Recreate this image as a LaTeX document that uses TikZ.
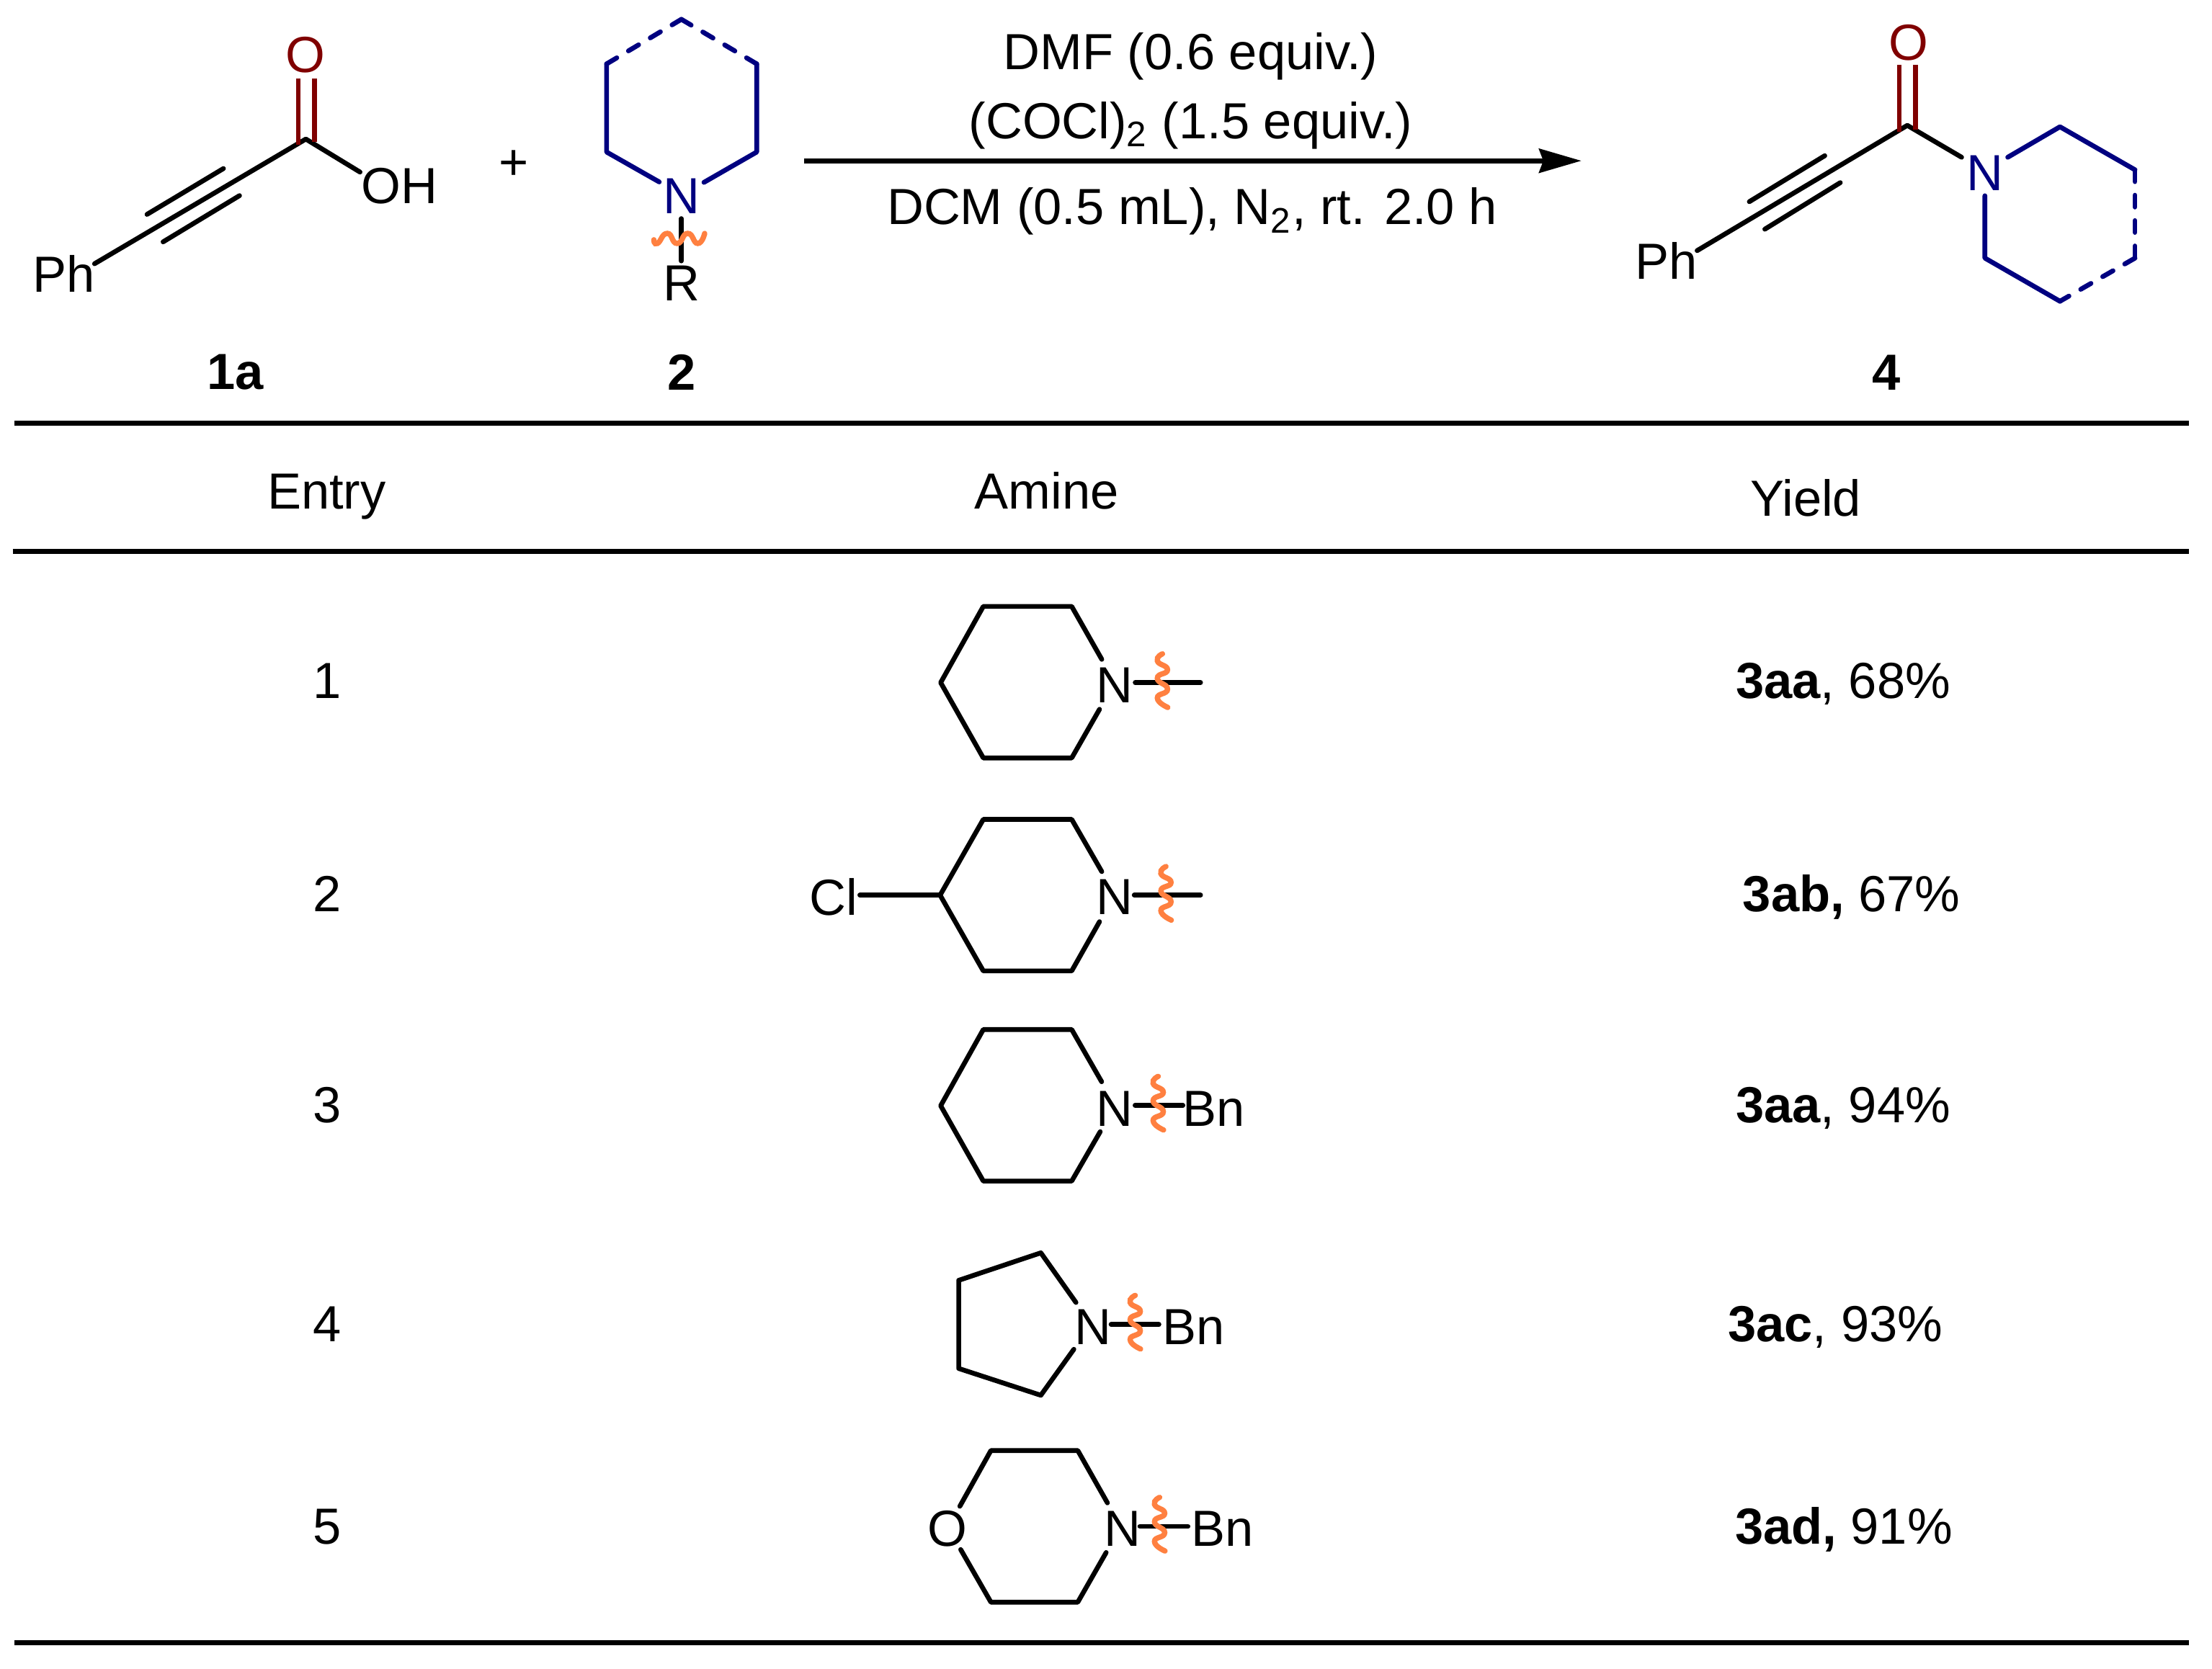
\documentclass[tikz,border=0pt]{standalone}
\usepackage{fontspec}
\setmainfont{Liberation Sans}
\usetikzlibrary{arrows.meta}
\definecolor{navyb}{RGB}{0,0,128}
\definecolor{oxy}{RGB}{128,0,0}
\definecolor{wavy}{RGB}{255,128,64}
\tikzset{
 bond/.style={line width=1.7pt,line cap=round,line join=round,black},
 nbond/.style={bond,draw=navyb},
 ndash/.style={nbond,dash pattern=on 4.2pt off 4.8pt},
 obond/.style={line width=1.7pt,draw=oxy},
 squig/.style={line width=1.9pt,draw=wavy,line cap=round},
 tablerule/.style={line width=1.79pt,black},
 txt/.style={font=\fontsize{18pt}{20pt}\selectfont,inner sep=0pt,text=black},
 lab/.style={txt,font=\fontsize{18pt}{20pt}\selectfont\bfseries},
 atomn/.style={txt,text=navyb},
 atomo/.style={txt,text=oxy},
}
% vertical squiggle centred at (#1,#2)
\newcommand{\vsq}[2]{\draw[squig,shift={(#1,#2)}] plot[smooth,tension=1] coordinates {(0,-19) (-3.6,-14) (3.6,-7.7) (-3.6,-1.7) (3.6,6) (-3.6,12.3) (3.8,19)};}
\begin{document}
\begin{tikzpicture}[x=0.5pt,y=-0.5pt]
\useasboundingbox (0,0) rectangle (1568,1183.4);
% 1a
\node[txt] (ph1) at (45,194) {Ph};
\node[atomo] (o1) at (216.4,39) {O};
\node[txt] (oh1) at (283,132) {OH};
\coordinate (c1) at (216.8,98.6);
\draw[bond] (67,187) -- (c1) -- (255.2,122);
\draw[bond] (104.2,152) -- (158.4,119.5);
\draw[bond] (115.6,171.5) -- (169.8,138.7);
\draw[obond] (211.4,55.7) -- (211.4,102.5);
\draw[obond] (222.8,55.7) -- (222.8,100.6);
\node[txt] (plus) at (364,117) {+};
% 2
\node[atomn] (n2) at (483,139) {N};
\node[txt] (r2) at (483,201) {R};
\draw[nbond] (467.3,129) -- (430,107.8) -- (430,45.3);
\draw[ndash] (430,45.3) -- (483,13.7);
\draw[ndash] (536.4,45.3) -- (483,13.7);
\draw[nbond] (536.4,45.3) -- (536.4,107.8) -- (499,129.3);
\draw[bond] (483,155) -- (483,185);
\draw[squig] plot[smooth,tension=1] coordinates {(463.5,170) (466,172.6) (473,165.5) (480,172.6) (487.5,165.5) (494.6,172.6) (499.5,165.5)};
\node[lab] (l1a) at (167,264) {1a};
\node[lab] (l2) at (483,264) {2};
% arrow and conditions
\coordinate (ars) at (570,114);
\coordinate (are) at (1121,114);
\draw[line width=1.75pt,-{Stealth[length=15pt,width=8.5pt,inset=1.5pt]}] (ars) -- (are);
\node[txt] (c1t) at (844,40) {DMF (0.6 equiv.)};
\node[txt] (c2t) at (844,89) {(COCl)\textsubscript{2} (1.5 equiv.)};
\node[txt] (c3t) at (845,150) {DCM (0.5 mL), N\textsubscript{2}, rt. 2.0 h};
% 4
\node[txt] (ph4) at (1181,185) {Ph};
\node[atomo] (o4) at (1353,30) {O};
\node[atomn] (n4) at (1406.9,122.6) {N};
\coordinate (c4) at (1352,88.9);
\draw[bond] (1203,177.7) -- (c4) -- (1390.5,111.5);
\draw[bond] (1240,143) -- (1293.5,110.4);
\draw[bond] (1251,162.5) -- (1304.5,129.5);
\draw[obond] (1346.3,45.9) -- (1346.3,93.7);
\draw[obond] (1357.9,45.9) -- (1357.9,91.8);
\draw[nbond] (1423.2,111.5) -- (1460.2,89.9) -- (1513.4,120.4);
\draw[ndash] (1513.4,120.4) -- (1513.4,183);
\draw[ndash] (1513.4,183) -- (1460.2,213.6);
\draw[nbond] (1460.2,213.6) -- (1407,183) -- (1407,138.8);
\node[lab] (l4) at (1337,264) {4};
% rules
\draw[tablerule] (10.2,300) -- (1551.6,300);
\draw[tablerule] (9,391) -- (1551.6,391);
\draw[tablerule] (10.2,1164.6) -- (1551.6,1164.6);
% header
\node[txt] (h1) at (231.5,352) {Entry};
\node[txt] (h2) at (742,348) {Amine};
\node[txt] (h3) at (1280,353) {Yield};
% entries
\node[txt] (e1) at (232,483) {1};
\node[txt] (e2) at (232,634) {2};
\node[txt] (e3) at (232,783.5) {3};
\node[txt] (e4) at (232,939) {4};
\node[txt] (e5) at (232,1082.5) {5};
\node[txt] (y1) at (1306.5,485) {\textbf{3aa}, 68\%};
\node[txt] (y2) at (1312.5,636) {\textbf{3ab,} 67\%};
\node[txt] (y3) at (1306.5,785.5) {\textbf{3aa}, 94\%};
\node[txt] (y4) at (1301,941) {\textbf{3ac}, 93\%};
\node[txt] (y5) at (1307,1084.5) {\textbf{3ad,} 91\%};
% row 1
\node[txt] (na) at (790,486) {N};
\draw[bond] (781,467.5) -- (759.7,430) -- (697,430) -- (666.8,484) -- (697,537.4) -- (759.7,537.4) -- (779.4,502.9);
\draw[bond] (804.7,484) -- (851,484);
\vsq{824}{482.6}
% row 2
\node[txt] (nb) at (790,636) {N};
\node[txt] (cl) at (591,636) {Cl};
\draw[bond] (781,618) -- (759.7,581) -- (697,581) -- (666.4,634.7) -- (697,688.4) -- (759.7,688.4) -- (779.4,653.5);
\draw[bond] (609.5,634.7) -- (666.4,634.7);
\draw[bond] (804,634.7) -- (851,634.7);
\vsq{826.5}{633.4}
% row 3
\node[txt] (nc) at (790.3,786) {N};
\node[txt] (bc) at (860.5,786) {Bn};
\draw[bond] (780.9,767) -- (759.7,730) -- (697,730) -- (666.8,784) -- (697,837.4) -- (759.7,837.4) -- (779.9,802.4);
\draw[bond] (804.6,783.7) -- (838.5,783.7);
\vsq{821}{782.2}
% row 4
\node[txt] (nd) at (775,941) {N};
\node[txt] (bd) at (846,941) {Bn};
\draw[bond] (762.7,923.5) -- (737.8,888.3) -- (679.6,907.8) -- (679.6,970.3) -- (737.8,989.3) -- (761.2,956.7);
\draw[bond] (787.6,939.1) -- (821.5,939.1);
\vsq{804.7}{937.5}
% row 5
\node[txt] (ne) at (795.5,1084) {N};
\node[txt] (be) at (866.5,1084) {Bn};
\node[txt] (oe) at (671.8,1084) {O};
\draw[bond] (680.4,1068) -- (702.4,1028.5) -- (764,1028.5) -- (785,1065.6);
\draw[bond] (784.1,1100.8) -- (764,1136) -- (702.4,1136) -- (681,1098.7);
\draw[bond] (808,1082.3) -- (842.1,1082.3);
\vsq{822}{1080.7}
\end{tikzpicture}
\end{document}
